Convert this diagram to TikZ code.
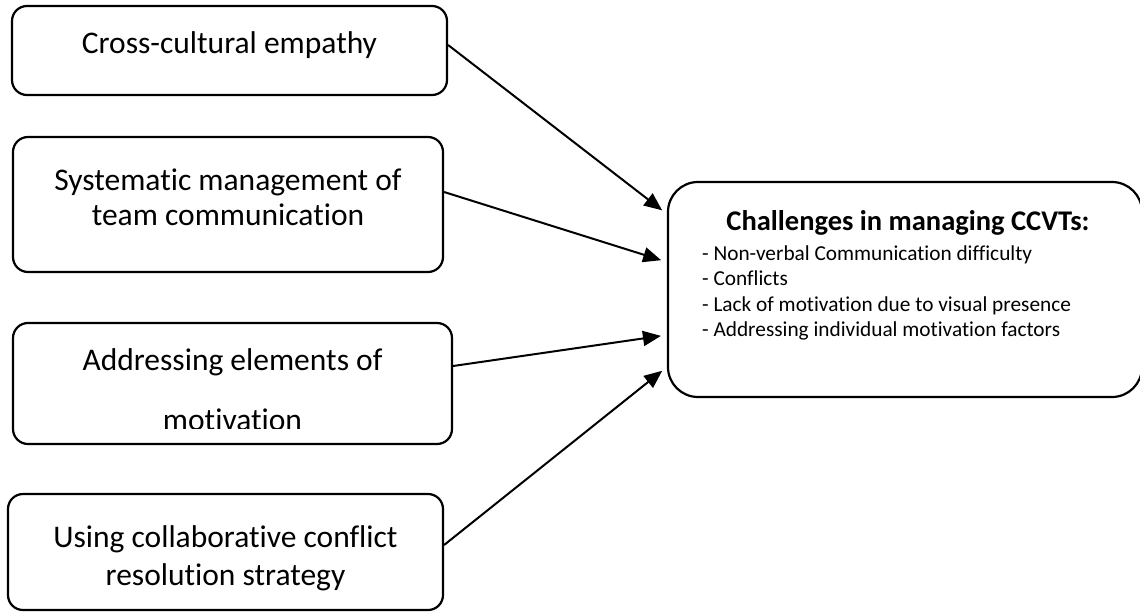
\documentclass[tikz,border=0pt]{standalone}
\usepackage{fontspec}
\setmainfont{Carlito}[Ligatures=NoCommon]
\usetikzlibrary{arrows.meta}
\begin{document}
\begin{tikzpicture}[x=1pt,y=-1pt,
  factor/.style={draw, line width=2.2pt, rounded corners=15pt, inner sep=0pt},
  challenge/.style={draw, line width=2.2pt, rounded corners=30pt, inner sep=0pt},
  boxtext/.style={anchor=base, inner sep=0pt, font=\fontsize{31.5}{36}\selectfont},
  titletext/.style={anchor=base, inner sep=0pt, font=\fontsize{28.5}{32}\selectfont\bfseries},
  itemtext/.style={anchor=base west, inner sep=0pt, font=\fontsize{21.3}{25}\selectfont},
  arr/.style={line width=2pt, -{Triangle[length=18pt,width=15pt]}, shorten >=6pt}]
\useasboundingbox (0,0) rectangle (1140,613);

% factor boxes on the left
\node[factor, minimum width=435pt, minimum height=89pt]  (b1) at (229.5,50.5) {};
\node[factor, minimum width=430pt, minimum height=135pt] (b2) at (228,204.5) {};
\node[factor, minimum width=439pt, minimum height=121pt] (b3) at (232.5,383.5) {};
\node[factor, minimum width=435pt, minimum height=116pt] (b4) at (225.5,552) {};

% challenges box on the right
\node[challenge, minimum width=474pt, minimum height=215pt] (c) at (905,289.5) {};

% texts of the factor boxes
\node[boxtext] (t1) at (229.5,53) {Cross-cultural empathy};
\node[boxtext] (t2a) at (228,190) {Systematic management of};
\node[boxtext] (t2b) at (228,225) {team communication};
\node[boxtext] (t3a) at (232.5,370) {Addressing elements of};
\begin{scope}
  \clip (0,0) rectangle (1140,428);
  \node[boxtext] (t3b) at (232.5,430) {motivation};
\end{scope}
\node[boxtext] (t4a) at (225.5,547) {Using collaborative conflict};
\node[boxtext] (t4b) at (225.5,585) {resolution strategy};

% texts of the challenges box
\node[titletext] (ct) at (908,230) {Challenges in managing CCVTs:};
\node[itemtext] (c1) at (702,260) {- Non-verbal Communication difficulty};
\node[itemtext] (c2) at (702,285.5) {- Conflicts};
\node[itemtext] (c3) at (702,311) {- Lack of motivation due to visual presence};
\node[itemtext] (c4) at (702,336.5) {- Addressing individual motivation factors};

% connectors
\draw[arr] (b1.east |- 0,45)  -- (c.west |- 0,214);
\draw[arr] (b2.east |- 0,192) -- (c.west |- 0,262);
\draw[arr] (b3.east |- 0,366) -- (c.west |- 0,335);
\draw[arr] (b4.east |- 0,545) -- (c.west |- 0,367);
\end{tikzpicture}
\end{document}
